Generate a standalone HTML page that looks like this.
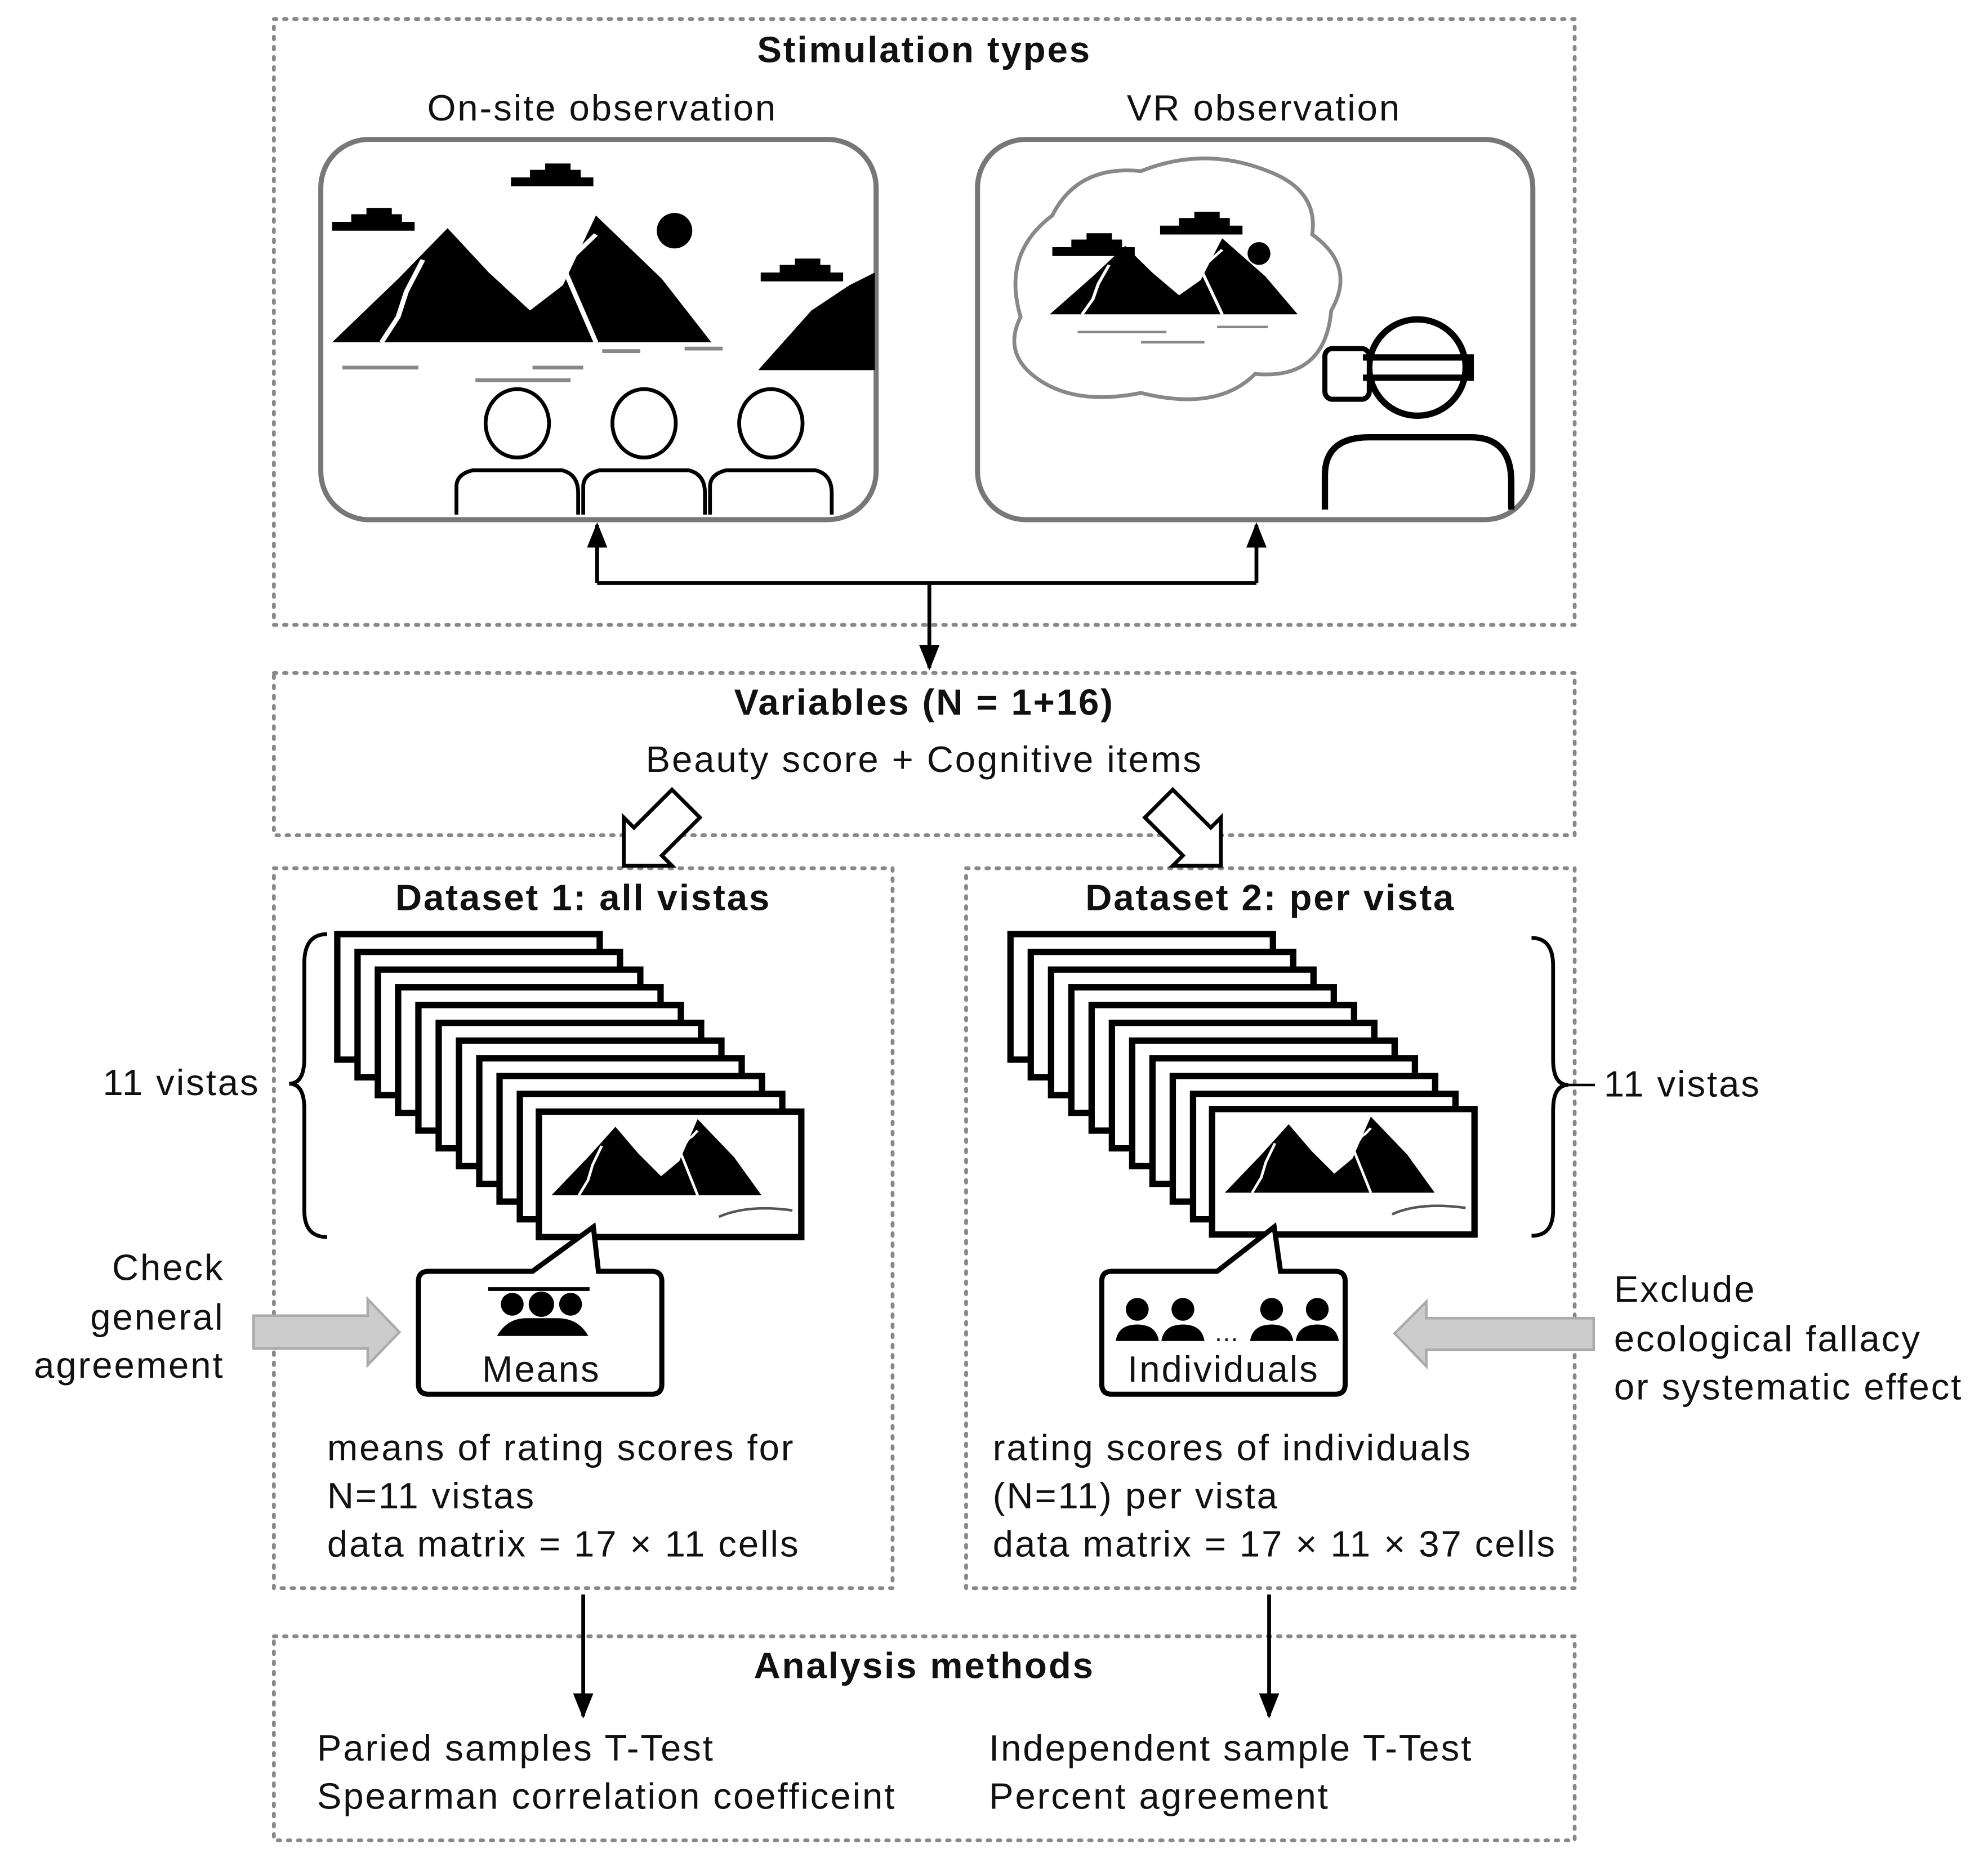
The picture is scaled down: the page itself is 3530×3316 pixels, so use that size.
<!DOCTYPE html>
<html><head><meta charset="utf-8"><style>
html,body{margin:0;padding:0;background:#fff;}
svg{display:block;}
text{font-family:"Liberation Sans",sans-serif;fill:#111;letter-spacing:1.3px;}
</style></head><body>
<svg width="3530" height="3316" viewBox="0 0 1568 1473" xmlns="http://www.w3.org/2000/svg">
<defs>
<marker id="ah" markerWidth="20" markerHeight="16" refX="18" refY="8" orient="auto" markerUnits="userSpaceOnUse" viewBox="0 0 20 16">
<path d="M0,0 L20,8 L0,16 z" fill="#000"/></marker>
<g id="mtn">
<polygon points="0,80 40,30 55,10 70,-10 95,25 120,55 140,35 160,-20 200,30 230,80" fill="#000"/>
<polyline points="55,15 45,40 40,60 30,80" fill="none" stroke="#fff" stroke-width="3"/>
<polyline points="160,-5 140,20 150,50 160,80" fill="none" stroke="#fff" stroke-width="3"/>
</g>
<g id="card">
<rect x="0" y="0" width="207" height="99" fill="#fff" stroke="#000" stroke-width="5"/>
</g>
<g id="person">
<ellipse cx="0" cy="0" rx="25" ry="27" fill="#fff" stroke="#000" stroke-width="3"/>
<path d="M-48,72 L-48,50 Q-48,40 -35,37 L35,37 Q48,40 48,55 L48,72" fill="none" stroke="#000" stroke-width="3"/>
</g>
<g id="cloud"><path d="M0,10 h15 v-6 h12 v-5 h20 v5 h8 v6 h10 v7 h-65 z" fill="#000"/></g>
</defs>
<g fill="none" stroke="#888" stroke-width="3" stroke-dasharray="2 6" stroke-linecap="round">
<rect x="216" y="15" width="1026" height="478"/>
<rect x="216" y="531" width="1026" height="128"/>
<rect x="216" y="685" width="488" height="568"/>
<rect x="762" y="685" width="480" height="568"/>
<rect x="216" y="1291" width="1026" height="161"/>
</g>
<g font-size="29">
<text x="729" y="49" font-weight="bold" text-anchor="middle">Stimulation types</text>
<text x="475" y="95" text-anchor="middle">On-site observation</text>
<text x="997" y="95" text-anchor="middle">VR observation</text>
</g>
<!-- left panel -->
<rect x="253" y="110" width="438" height="300" rx="38" fill="#fff" stroke="#777" stroke-width="4"/>
<use href="#cloud" x="262" y="165"/>
<use href="#cloud" x="403" y="130"/>
<use href="#cloud" x="600" y="205"/>
<g transform="translate(262,190) scale(1.3,1)"><use href="#mtn"/></g>
<circle cx="532" cy="182" r="14" fill="#000"/>
<g stroke="#888" stroke-width="3">
<line x1="270" y1="290" x2="330" y2="290"/><line x1="375" y1="300" x2="450" y2="300"/>
<line x1="420" y1="290" x2="460" y2="290"/><line x1="475" y1="277" x2="505" y2="277"/><line x1="540" y1="275" x2="570" y2="275"/></g>
<polygon points="598,292 640,245 670,225 690,215 690,292" fill="#000"/>
<use href="#person" x="408" y="334"/><use href="#person" x="508" y="334"/><use href="#person" x="608" y="334"/>
<!-- right panel -->
<rect x="771" y="110" width="438" height="300" rx="38" fill="#fff" stroke="#777" stroke-width="4"/>
<path d="M820,300 Q790,280 805,250 Q790,200 830,170 Q850,130 900,135 Q950,115 1000,135 Q1040,150 1035,185 Q1070,210 1050,245 Q1045,300 990,295 Q960,325 900,310 Q850,320 820,300 z" fill="#fff" stroke="#888" stroke-width="3"/>
<use href="#cloud" x="830" y="185"/>
<use href="#cloud" x="915" y="168"/>
<g transform="translate(828,200) scale(0.85,0.6)"><use href="#mtn"/></g>
<circle cx="993" cy="200" r="9" fill="#000"/>
<g stroke="#888" stroke-width="2"><line x1="850" y1="262" x2="920" y2="262"/><line x1="900" y1="270" x2="950" y2="270"/><line x1="960" y1="258" x2="1000" y2="258"/></g>
<circle cx="1118" cy="290" r="38" fill="#fff" stroke="#000" stroke-width="5"/>
<rect x="1045" y="275" width="35" height="40" rx="6" fill="#fff" stroke="#000" stroke-width="4"/>
<path d="M1075,282 L1160,282 L1160,298 L1075,298" fill="none" stroke="#000" stroke-width="5"/>
<path d="M1045,402 L1045,375 Q1045,345 1080,345 L1160,345 Q1192,345 1192,380 L1192,402" fill="none" stroke="#000" stroke-width="5"/>
<!-- connectors -->
<g stroke="#000" stroke-width="3" fill="none">
<line x1="471" y1="460" x2="991" y2="460"/>
<line x1="471" y1="460" x2="471" y2="414" marker-end="url(#ah)"/>
<line x1="991" y1="460" x2="991" y2="414" marker-end="url(#ah)"/>
<line x1="733" y1="460" x2="733" y2="527" marker-end="url(#ah)"/>
<line x1="460" y1="1258" x2="460" y2="1354" marker-end="url(#ah)"/>
<line x1="1001" y1="1258" x2="1001" y2="1354" marker-end="url(#ah)"/>
</g>
<g font-size="29">
<text x="729" y="564" font-weight="bold" text-anchor="middle">Variables (N = 1+16)</text>
<text x="729" y="609" text-anchor="middle">Beauty score + Cognitive items</text>
<text x="460" y="718" font-weight="bold" text-anchor="middle">Dataset 1: all vistas</text>
<text x="1002" y="718" font-weight="bold" text-anchor="middle">Dataset 2: per vista</text>
</g>
<!-- hollow arrows -->
<g fill="#fff" stroke="#000" stroke-width="3">
<polygon points="535,628 552,645 522,675 530,683 492,683 492,645 500,653 530,623"/>
<polygon points="920,628 903,645 933,675 925,683 963,683 963,645 955,653 925,623"/>
</g>
<!-- left stack -->
<g>
<use href="#card" x="266" y="737"/><use href="#card" x="282" y="751"/><use href="#card" x="298" y="765"/><use href="#card" x="314" y="779"/><use href="#card" x="330" y="793"/><use href="#card" x="346" y="807"/><use href="#card" x="362" y="821"/><use href="#card" x="378" y="835"/><use href="#card" x="394" y="849"/><use href="#card" x="410" y="863"/><use href="#card" x="425" y="877"/>
</g>
<g transform="translate(435,895) scale(0.72,0.6)"><use href="#mtn"/></g>
<circle cx="549" cy="904" r="7" fill="#000"/>
<path d="M567,960 Q590,950 625,955" stroke="#555" stroke-width="2" fill="none"/>
<!-- right stack -->
<g>
<use href="#card" x="797" y="737"/><use href="#card" x="813" y="751"/><use href="#card" x="829" y="765"/><use href="#card" x="845" y="779"/><use href="#card" x="861" y="793"/><use href="#card" x="877" y="807"/><use href="#card" x="893" y="821"/><use href="#card" x="909" y="835"/><use href="#card" x="925" y="849"/><use href="#card" x="941" y="863"/><use href="#card" x="956" y="875"/>
</g>
<g transform="translate(966,893) scale(0.72,0.6)"><use href="#mtn"/></g>
<circle cx="1080" cy="902" r="7" fill="#000"/>
<path d="M1098,958 Q1120,948 1156,953" stroke="#555" stroke-width="2" fill="none"/>
<!-- braces -->
<path d="M258,737 Q240,737 240,760 L240,835 Q240,855 228,855 Q240,855 240,875 L240,955 Q240,976 258,976" fill="none" stroke="#000" stroke-width="3"/>
<path d="M1208,740 Q1225,740 1225,762 L1225,836 Q1225,856 1237,856 Q1225,856 1225,876 L1225,955 Q1225,975 1208,975" fill="none" stroke="#000" stroke-width="3"/>
<line x1="1237" y1="856" x2="1258" y2="856" stroke="#000" stroke-width="2"/>
<text x="205" y="864" font-size="29" text-anchor="end">11 vistas</text>
<text x="1265" y="865" font-size="29">11 vistas</text>
<!-- bubbles -->
<path d="M338,1003 L420,1003 L468,968 L472,1003 L514,1003 Q522,1003 522,1011 L522,1092 Q522,1100 514,1100 L338,1100 Q330,1100 330,1092 L330,1011 Q330,1003 338,1003 z" fill="#fff" stroke="#000" stroke-width="4"/>
<line x1="385" y1="1017" x2="465" y2="1017" stroke="#000" stroke-width="3"/>
<circle cx="404" cy="1029" r="9" fill="#000"/><circle cx="427" cy="1029" r="10" fill="#000"/><circle cx="450" cy="1029" r="9" fill="#000"/>
<path d="M392,1054 Q400,1040 415,1040 L440,1040 Q456,1040 464,1054 z" fill="#000"/>
<text x="427" y="1090" font-size="29" text-anchor="middle">Means</text>
<path d="M877,1003 L960,1003 L1005,968 L1010,1003 L1053,1003 Q1061,1003 1061,1011 L1061,1092 Q1061,1100 1053,1100 L877,1100 Q869,1100 869,1092 L869,1011 Q869,1003 877,1003 z" fill="#fff" stroke="#000" stroke-width="4"/>
<g fill="#000">
<circle cx="897" cy="1033" r="9"/><path d="M880,1058 Q882,1045 897,1045 Q912,1045 914,1058 z"/>
<circle cx="933" cy="1033" r="9"/><path d="M916,1058 Q918,1045 933,1045 Q948,1045 950,1058 z"/>
<circle cx="1003" cy="1033" r="9"/><path d="M986,1058 Q988,1045 1003,1045 Q1018,1045 1020,1058 z"/>
<circle cx="1039" cy="1033" r="9"/><path d="M1022,1058 Q1024,1045 1039,1045 Q1054,1045 1056,1058 z"/>
</g>
<text x="968" y="1058" font-size="20" text-anchor="middle">…</text>
<text x="965" y="1090" font-size="29" text-anchor="middle">Individuals</text>
<!-- gray arrows -->
<polygon points="200,1038 290,1038 290,1025 315,1051 290,1077 290,1064 200,1064" fill="#ccc" stroke="#aaa" stroke-width="2"/>
<polygon points="1257,1040 1125,1040 1125,1027 1100,1052 1125,1078 1125,1065 1257,1065" fill="#ccc" stroke="#aaa" stroke-width="2"/>
<g font-size="29">
<text x="177" y="1010" text-anchor="end">Check</text>
<text x="177" y="1049" text-anchor="end">general</text>
<text x="177" y="1087" text-anchor="end">agreement</text>
<text x="1273" y="1027">Exclude</text>
<text x="1273" y="1066">ecological fallacy</text>
<text x="1273" y="1104">or systematic effect</text>
<text x="258" y="1152">means of rating scores for</text>
<text x="258" y="1190">N=11 vistas</text>
<text x="258" y="1228">data matrix = 17 × 11 cells</text>
<text x="783" y="1152">rating scores of individuals</text>
<text x="783" y="1190">(N=11) per vista</text>
<text x="783" y="1228">data matrix = 17 × 11 × 37 cells</text>
<text x="729" y="1324" font-weight="bold" text-anchor="middle">Analysis methods</text>
<text x="250" y="1389">Paried samples T-Test</text>
<text x="250" y="1427">Spearman correlation coefficeint</text>
<text x="780" y="1389">Independent sample T-Test</text>
<text x="780" y="1427">Percent agreement</text>
</g>
</svg>
</body></html>
